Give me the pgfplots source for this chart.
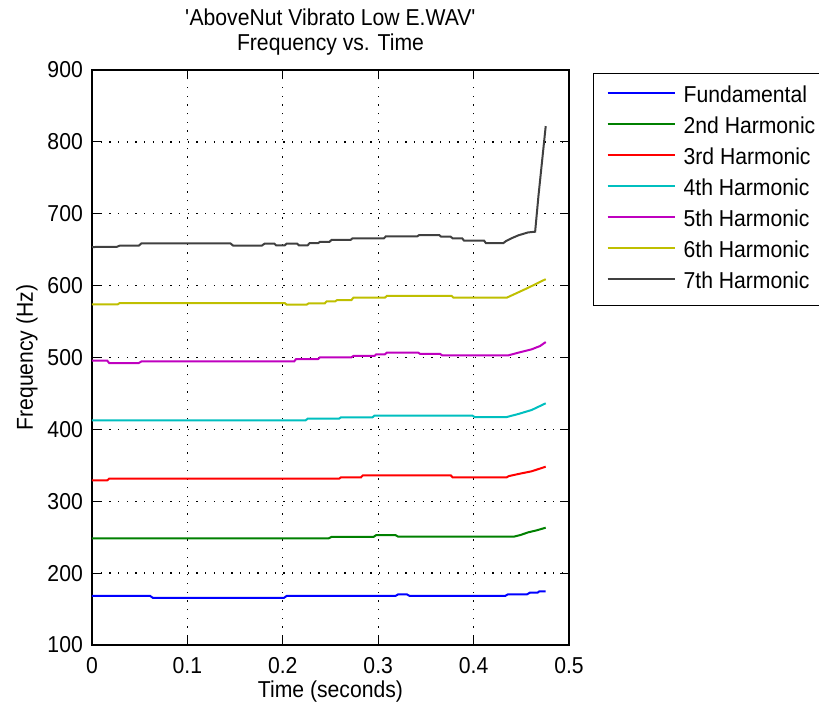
\documentclass[border=0pt]{standalone}
\usepackage{fontspec}
\setmainfont{Liberation Sans}[FakeStretch=0.92]
\usepackage{pgfplots}
\pgfplotsset{compat=1.18}
\newcommand\fs{\fontsize{23}{24.5}\selectfont}
\definecolor{mb}{rgb}{0,0,1}
\definecolor{mg}{rgb}{0,0.5,0}
\definecolor{mr}{rgb}{1,0,0}
\definecolor{mc}{rgb}{0,0.75,0.75}
\definecolor{mm}{rgb}{0.75,0,0.75}
\definecolor{my}{rgb}{0.75,0.75,0}
\definecolor{mk}{rgb}{0.25,0.25,0.25}
\begin{document}
\begin{tikzpicture}
\begin{axis}[
  scale only axis, width=477pt, height=575pt,
  xmin=0, xmax=0.5, ymin=100, ymax=900,
  xtick={0,0.1,0.2,0.3,0.4,0.5},
  ytick={100,200,300,400,500,600,700,800,900},
  /pgf/number format/assume math mode=true,
  tick label style={font=\fs},
  xticklabel style={inner sep=0pt, yshift=-12pt},
  yticklabel style={inner sep=0pt, xshift=-9pt},
  tick align=inside, major tick length=9pt,
  tick style={black, line width=1.2pt},
  axis line style={black, line width=1.3pt},
  grid=major,
  major grid style={black, line width=1.3pt, dash pattern=on 1.3pt off 7.4pt},
  title={\textquotesingle AboveNut Vibrato Low E.WAV\textquotesingle\\Frequency vs. Time},
  title style={font=\fs, align=center, at={(axis description cs:0.5,1)}, anchor=south, inner sep=0pt, yshift=9pt},
  xlabel={Time (seconds)},
  xlabel style={font=\fs, at={(axis description cs:0.5,0)}, anchor=base, inner sep=0pt, yshift=-52pt},
  ylabel={Frequency (Hz)},
  ylabel style={font=\fs, at={(axis description cs:-0.1363,0.5)}, anchor=center},
  legend cell align=left,
  legend image code/.code={\draw[#1, line width=2pt] (0pt,10pt) -- (67pt,10pt);},
  legend style={font=\fs, at={(axis description cs:1,1)}, anchor=north west, xshift=24pt, yshift=-3pt,
    draw=black, line width=1.2pt, inner xsep=13pt, inner ysep=12.5pt, row sep=10pt,
    nodes={inner sep=0pt, text height=16.5pt, text depth=4.5pt, anchor=base west},
    /tikz/every odd column/.append style={column sep=8pt}},
  every axis plot/.append style={line width=2pt},
]
\coordinate (bl) at (rel axis cs:0,0);
\addplot[mb] coordinates {(0,168.2) (0.061,168.2) (0.064,165.4) (0.201,165.4) (0.204,168.2) (0.318,168.2) (0.321,170.5) (0.330,170.5) (0.333,168.2) (0.433,168.2) (0.436,170.5) (0.456,170.5) (0.459,172.8) (0.467,172.8) (0.469,174.7) (0.4756,174.7)};
\addlegendentry{Fundamental}
\addplot[mg] coordinates {(0,248.4) (0.248,248.4) (0.251,250.3) (0.295,250.3) (0.298,253) (0.318,253) (0.321,250.7) (0.442,250.7) (0.449,253) (0.4574,256.8) (0.466,259.5) (0.4756,263.2)};
\addlegendentry{2nd Harmonic}
\addplot[mr] coordinates {(0,329.1) (0.016,329.1) (0.018,331.4) (0.259,331.4) (0.261,333.3) (0.282,333.3) (0.284,336.1) (0.376,336.1) (0.378,333.3) (0.4347,333.3) (0.437,335) (0.4469,337.9) (0.4609,341.7) (0.4756,348.1)};
\addlegendentry{3rd Harmonic}
\addplot[mc] coordinates {(0,412.6) (0.224,412.6) (0.226,414.9) (0.259,414.9) (0.261,416.8) (0.294,416.8) (0.296,419) (0.399,419) (0.401,417.2) (0.4347,417.2) (0.4469,421.4) (0.4609,427) (0.4756,436.3)};
\addlegendentry{4th Harmonic}
\addplot[mm] coordinates {(0,495.6) (0.016,495.6) (0.018,492.3) (0.049,492.3) (0.052,494.7) (0.212,494.7) (0.214,497.9) (0.237,497.9) (0.239,500.3) (0.272,500.3) (0.274,502.1) (0.296,502.1) (0.298,504.4) (0.307,504.4) (0.309,506.7) (0.342,506.7) (0.344,504.9) (0.365,504.9) (0.367,503) (0.4364,503) (0.4469,506.7) (0.4609,511.4) (0.4697,516) (0.4756,521.5)};
\addlegendentry{5th Harmonic}
\addplot[my] coordinates {(0,574) (0.027,574) (0.029,575.8) (0.202,575.8) (0.204,573.5) (0.225,573.5) (0.227,575.3) (0.244,575.3) (0.246,578.2) (0.255,578.2) (0.257,580) (0.272,580) (0.274,583.2) (0.307,583.2) (0.309,585.6) (0.377,585.6) (0.379,583.2) (0.4347,583.2) (0.4556,596) (0.4756,609)};
\addlegendentry{6th Harmonic}
\addplot[mk] coordinates {(0,653.7) (0.026,654) (0.029,655.6) (0.049,655.6) (0.052,658.9) (0.145,658.9) (0.148,655.6) (0.178,655.6) (0.181,658.5) (0.191,658.5) (0.193,656) (0.202,656) (0.204,658.5) (0.215,658.5) (0.217,656) (0.226,656) (0.228,659) (0.237,659) (0.239,661) (0.249,661) (0.251,663.5) (0.271,663.5) (0.273,665.8) (0.306,665.8) (0.308,668.6) (0.341,668.6) (0.343,670.4) (0.364,670.4) (0.366,668) (0.376,668) (0.378,665.8) (0.388,665.8) (0.390,662.6) (0.411,662.6) (0.413,659) (0.431,659) (0.434,662) (0.440,666) (0.447,670) (0.457,674) (0.4645,675) (0.468,725) (0.4756,822)};
\addlegendentry{7th Harmonic}
\end{axis}
\pgfresetboundingbox
\path (bl) ++(-92pt,-60pt) rectangle ++(819pt,705pt);
\end{tikzpicture}
\end{document}
